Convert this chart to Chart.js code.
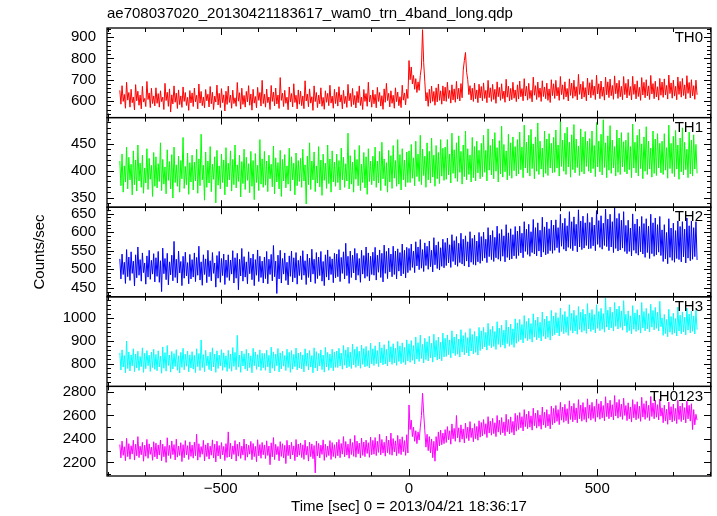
<!DOCTYPE html>
<html><head><meta charset="utf-8">
<script src="https://cdn.jsdelivr.net/npm/chart.js@4/dist/chart.umd.min.js"></script>
<style>html,body{margin:0;padding:0;background:#fff}canvas{display:block}</style>
</head><body>
<canvas id="c" width="717" height="516"></canvas>
<script>
const TITLE = 'ae708037020_20130421183617_wam0_trn_4band_long.qdp';
const X_TITLE = 'Time [sec] 0 = 2013/04/21 18:36:17';
const Y_TITLE = 'Counts/sec';
const T_START = -768, T_STEP = 3;
const panelNames = ['TH0','TH1','TH2','TH3','TH0123'];
const panelColors = ['#ff0000','#00ff00','#0000ff','#00ffff','#ff00ff'];

const th0 = [
650,585,672,598,631,566,688,604,640,571,655,592,619,558,677,601,646,580,628,563,669,595,612,574,692,607,638,569,660,588,624,577,
662,589,635,571,648,597,618,560,683,602,641,575,657,548,629,586,671,594,637,565,652,583,624,570,666,598,640,579,617,556,649,591,
638,574,661,596,627,563,680,590,645,578,619,568,654,601,632,572,668,587,641,560,623,595,675,581,636,569,658,592,629,553,646,584,
670,593,628,566,651,588,615,575,687,599,639,562,660,584,626,571,645,596,672,580,633,557,655,590,621,568,664,603,640,576,697,588,
632,571,656,592,619,560,673,598,642,577,661,586,628,565,710,603,637,574,650,589,618,559,666,596,635,572,681,593,627,563,652,585,
646,578,624,564,695,600,633,573,657,590,620,556,671,597,640,569,628,587,662,575,617,561,648,594,636,578,674,590,623,566,655,588,
641,576,667,595,629,563,650,588,622,570,678,601,636,574,659,583,626,567,645,592,671,579,618,560,654,598,635,575,688,596,628,571,
652,587,631,568,664,598,640,576,625,561,657,594,683,602,636,572,648,589,627,566,662,597,642,578,620,569,674,604,638,582,655,612,
790,700,760,680,720,655,705,640,690,650,720,760,935,780,690,600,640,575,655,590,670,598,645,580,662,596,680,603,648,585,671,600,
665,598,688,612,650,590,676,605,657,594,692,609,660,600,682,615,745,790,828,735,700,630,672,605,660,598,684,610,652,592,679,614,
668,601,685,612,650,592,697,616,662,598,678,607,655,589,690,620,664,603,681,611,647,594,702,618,670,600,659,606,688,613,652,597,
676,609,694,620,658,601,705,623,669,604,683,612,650,596,712,627,672,607,689,617,661,598,695,621,666,611,684,603,657,593,700,625,
681,612,697,624,664,603,715,630,676,608,690,619,659,600,704,626,684,613,698,622,667,605,725,631,679,610,692,618,663,601,708,628,
686,615,700,627,670,607,721,633,681,611,694,622,666,604,712,629,690,616,703,625,673,608,718,634,684,612,697,620,669,606,715,630,
683,614,702,626,668,605,716,631,679,610,695,621,664,603,710,628,688,615,700,624,671,607,720,633,682,611,693,619,667,604,706,627,
689,617,704,628,673,609,722,635,685,613,698,623,669,606,713,631,692,618,706,626,676,610,719,636,687,614,700,624,672,608,698,629];

const th1 = [
418,372,431,360,409,379,444,366,425,383,412,355,437,374,420,362,448,381,414,369,429,358,405,377,441,365,423,384,410,352,434,371,
426,368,413,380,452,363,421,375,407,357,439,382,417,366,430,349,444,378,411,371,427,360,419,385,462,367,408,374,433,356,415,379,
429,364,416,381,440,358,422,372,468,383,410,345,435,369,418,377,445,361,412,384,426,340,438,373,409,366,431,378,420,355,443,370,
414,383,437,362,421,374,448,368,411,380,429,351,417,376,440,365,425,382,413,359,436,371,419,346,432,378,410,363,458,375,422,369,
436,373,418,361,429,385,412,370,446,357,424,379,415,366,438,352,421,381,430,368,409,375,442,362,426,383,414,355,433,372,419,380,
423,369,440,381,411,338,427,374,452,365,418,383,435,361,409,377,445,370,420,354,431,382,414,367,448,376,422,360,437,379,416,371,
431,378,419,364,442,383,425,369,413,381,470,366,428,375,416,360,439,384,421,372,447,363,412,378,434,368,426,356,441,380,418,374,
427,381,444,369,418,377,436,363,453,385,422,372,415,360,438,379,428,367,447,386,419,371,458,375,430,364,441,383,420,370,435,378,
437,378,449,386,424,372,455,389,431,380,466,374,440,391,427,369,452,383,436,377,461,388,429,371,447,385,434,376,458,390,442,382,
444,384,458,392,431,377,470,395,439,386,452,380,465,397,436,375,448,389,474,383,441,393,429,379,462,387,445,381,455,396,438,385,
451,389,466,397,438,381,478,401,447,392,459,385,471,399,443,379,456,394,483,388,449,398,437,383,468,391,452,386,463,400,445,390,
458,394,472,402,444,387,485,405,453,396,466,390,477,404,450,385,463,399,489,393,455,403,442,388,474,395,459,391,469,405,451,396,
462,397,476,405,448,390,492,408,457,399,470,393,481,407,453,388,467,402,486,396,459,406,446,391,478,398,463,394,473,408,455,399,
460,396,474,404,447,389,490,407,455,398,468,392,495,406,452,387,465,401,484,395,457,405,445,390,476,397,461,393,471,407,454,398,
457,394,471,402,445,387,487,405,453,396,466,390,477,404,450,385,463,399,482,393,455,403,442,388,474,395,459,391,469,405,451,396,
455,393,469,401,443,386,485,404,451,395,464,389,475,403,448,384,461,398,480,392,453,402,440,387,472,394,457,390,467,403,449,395];

const th2 = [
528,474,541,486,519,462,553,480,533,470,547,489,522,455,539,477,560,484,526,468,544,491,517,460,536,479,551,473,524,487,542,466,
531,481,548,465,523,440,557,488,529,472,543,458,520,485,538,469,575,478,527,463,549,490,521,456,535,476,546,482,518,461,540,474,
526,479,544,467,532,484,562,471,520,457,539,486,528,464,551,480,523,469,545,489,517,452,537,476,548,465,529,483,541,459,525,478,
539,470,525,487,550,463,531,476,543,445,527,482,556,468,534,479,520,461,547,488,530,472,541,456,526,484,552,467,535,478,522,463,
533,475,548,461,527,486,540,469,564,480,522,435,538,474,551,463,529,487,544,470,519,458,536,481,549,466,531,477,545,460,524,483,
536,472,550,484,523,459,541,478,530,466,554,487,527,462,545,475,533,483,548,468,521,456,539,479,552,471,534,486,528,464,543,477,
541,480,553,467,532,489,547,474,570,483,535,462,549,478,538,490,556,471,543,484,529,465,551,487,537,476,560,481,544,469,535,486,
546,484,559,471,538,492,552,478,543,466,565,489,548,475,557,493,541,480,562,486,549,474,555,495,545,482,568,488,551,477,559,491,
556,497,568,505,549,491,574,509,560,499,580,503,553,494,571,510,562,500,576,507,551,493,585,512,565,502,574,498,558,508,581,504,
572,510,584,517,566,505,593,521,577,512,588,508,570,518,597,514,581,509,590,522,574,506,601,519,583,513,592,511,576,520,599,516,
588,523,600,530,581,518,612,534,592,526,604,521,586,531,616,527,596,522,607,535,590,520,620,532,598,525,609,528,593,536,615,529,
603,537,616,544,597,531,628,548,608,540,621,535,601,545,634,541,612,536,625,549,605,533,640,546,614,539,627,542,609,550,632,543,
619,551,633,558,612,545,648,562,624,554,637,549,617,559,655,556,628,550,641,563,621,547,660,560,630,553,643,557,625,564,650,555,
626,556,640,563,619,550,658,567,631,559,644,554,624,564,662,561,635,550,648,560,628,545,665,556,637,549,650,552,632,557,655,548,
618,542,632,548,611,536,649,551,622,543,635,538,615,547,642,541,623,532,636,545,616,529,648,542,625,535,638,539,620,546,642,537,
606,521,620,528,599,515,636,532,611,524,624,519,604,529,630,526,615,520,628,533,608,517,638,530,617,523,630,527,612,534,628,525];

const th3 = [
848,772,861,785,836,760,900,779,852,768,839,790,866,765,843,781,855,770,832,787,870,762,846,778,858,791,838,766,851,783,864,775,
841,769,857,786,833,758,874,780,849,767,880,792,838,763,854,777,845,788,862,771,835,759,850,784,868,773,842,789,856,764,839,781,
853,776,837,761,866,787,845,770,905,783,840,765,859,791,834,774,851,768,870,786,843,762,857,779,838,790,862,771,848,784,835,766,
859,779,842,767,871,788,850,773,925,785,838,762,856,790,844,776,863,769,847,783,835,760,868,791,852,775,840,786,861,770,846,782,
845,771,860,786,837,759,873,780,852,768,843,791,867,764,848,777,855,789,836,770,864,783,850,762,858,776,841,787,869,773,847,781,
851,777,839,764,866,789,847,772,858,785,836,760,870,781,853,768,845,790,861,774,838,763,872,786,850,771,843,782,864,769,852,784,
856,783,868,790,847,776,880,793,861,781,873,787,852,779,886,795,864,784,875,791,855,780,882,797,867,786,876,789,858,782,890,799,
866,792,879,800,858,787,895,804,870,795,884,799,863,790,901,808,875,797,888,803,868,793,898,810,879,800,892,806,872,796,905,812,
888,806,902,815,880,799,918,820,893,810,926,823,885,803,912,818,897,812,921,826,890,807,930,829,903,816,917,821,895,813,935,830,
912,832,927,840,905,826,945,846,918,836,931,842,909,829,950,851,924,839,937,848,915,834,955,856,929,843,942,850,921,838,960,858,
945,866,960,874,938,860,978,880,951,870,965,876,942,863,985,885,957,873,970,882,948,868,992,889,962,877,975,884,954,872,998,890,
980,898,995,906,973,892,1012,912,986,902,1000,908,977,895,1020,917,992,905,1006,914,983,900,1028,921,997,909,1010,916,989,904,1035,923,
1010,928,1025,936,1003,922,1045,942,1016,932,1030,938,1007,925,1060,947,1022,935,1036,944,1013,930,1052,951,1027,939,1040,946,1019,934,1065,953,
1024,942,1039,950,1017,936,1060,956,1030,946,1044,952,1021,939,1090,961,1036,949,1050,958,1027,944,1070,965,1041,953,1054,960,1033,948,1078,967,
1018,938,1033,946,1011,932,1056,952,1024,942,1038,948,1015,935,1070,957,1030,945,1044,954,1021,940,1062,961,1035,949,1048,956,1027,944,1075,963,
1002,925,1017,933,995,919,1040,939,1008,929,1022,935,999,922,1050,944,1014,932,1028,941,1005,927,1045,948,1019,936,1032,943,1011,931,1035,950];

const th0123 = [
2352,2238,2381,2260,2334,2215,2405,2249,2360,2227,2342,2271,2389,2220,2355,2256,2420,2241,2338,2265,2371,2210,2347,2252,2396,2235,2358,2268,2330,2218,2376,2247,
2364,2230,2349,2262,2391,2214,2356,2248,2337,2200,2410,2258,2345,2233,2383,2266,2352,2221,2398,2245,2340,2259,2368,2207,2351,2240,2386,2263,2343,2225,2375,2251,
2348,2236,2372,2257,2440,2219,2359,2244,2335,2269,2388,2212,2350,2250,2366,2228,2339,2261,2392,2237,2356,2204,2381,2254,2344,2231,2369,2264,2336,2216,2360,2242,
2460,2246,2363,2229,2341,2267,2386,2211,2355,2253,2374,2234,2338,2262,2399,2218,2357,2245,2346,2270,2379,2223,2361,2249,2337,2206,2393,2256,2352,2235,2370,2265,
2349,2233,2384,2259,2340,2180,2367,2247,2412,2224,2354,2266,2336,2213,2377,2251,2359,2238,2345,2190,2388,2257,2348,2229,2371,2263,2341,2215,2395,2246,2357,2261,
2366,2242,2350,2226,2390,2262,2337,2211,2373,2249,2358,2232,2344,2110,2381,2255,2362,2238,2347,2268,2392,2217,2355,2244,2340,2258,2386,2225,2369,2250,2351,2236,
2372,2256,2395,2240,2361,2270,2420,2248,2378,2262,2356,2235,2401,2267,2369,2252,2430,2244,2382,2273,2365,2238,2408,2260,2374,2249,2390,2276,2368,2243,2415,2265,
2388,2270,2412,2258,2380,2285,2440,2264,2395,2279,2372,2253,2425,2283,2391,2268,2450,2261,2403,2289,2384,2257,2430,2276,2398,2266,2418,2291,2386,2260,2436,2280,
2690,2480,2560,2420,2500,2380,2470,2360,2460,2390,2500,2600,2790,2620,2470,2330,2440,2300,2420,2280,2400,2240,2380,2210,2420,2300,2460,2340,2475,2350,2450,2360,
2480,2370,2505,2392,2470,2355,2528,2401,2490,2380,2600,2410,2495,2372,2520,2398,2486,2365,2535,2405,2500,2385,2548,2412,2492,2376,2530,2402,2507,2389,2555,2415,
2540,2425,2565,2440,2530,2412,2590,2450,2552,2432,2575,2445,2538,2420,2600,2458,2560,2437,2582,2452,2545,2428,2610,2462,2566,2442,2588,2455,2550,2433,2618,2466,
2600,2480,2625,2495,2590,2468,2650,2505,2612,2488,2636,2500,2597,2475,2662,2512,2620,2492,2644,2508,2605,2483,2672,2518,2628,2497,2650,2510,2610,2486,2680,2522,
2660,2535,2685,2550,2650,2522,2712,2560,2672,2542,2695,2555,2658,2530,2725,2566,2680,2546,2703,2562,2665,2538,2735,2572,2688,2551,2710,2565,2670,2543,2742,2576,
2690,2560,2712,2575,2678,2548,2740,2585,2700,2568,2722,2580,2685,2555,2760,2590,2706,2572,2730,2588,2692,2562,2770,2596,2712,2577,2736,2590,2697,2567,2748,2600,
2685,2556,2708,2571,2673,2544,2735,2580,2695,2563,2717,2575,2680,2550,2755,2586,2701,2567,2725,2583,2687,2557,2762,2591,2707,2572,2731,2585,2692,2562,2740,2594,
2665,2538,2688,2552,2653,2525,2715,2561,2675,2544,2697,2556,2660,2531,2730,2566,2681,2548,2705,2563,2667,2537,2722,2571,2687,2552,2700,2480,2650,2520,2610,2560];

const series = [th0, th1, th2, th3, th0123];
const times = th0.map((_, i) => T_START + i * T_STEP);

const xRange = [-802, 802];
const xTicks = [-500, 0, 500];
const xMinorStep = 100;
const yRanges = [[522, 943], [332, 499], [426, 667], [700, 1095], [2084, 2848]];
const yTicks = [[600, 700, 800, 900], [350, 400, 450], [450, 500, 550, 600, 650], [800, 900, 1000], [2200, 2400, 2600, 2800]];
const yMinorSteps = [20, 10, 10, 20, 100];

const FONT = '"Liberation Sans", Arial, Helvetica, sans-serif';
Chart.defaults.font.family = FONT;
Chart.defaults.font.size = 15;
Chart.defaults.color = '#000';

const framePlugin = {
  id: 'frames',
  afterDatasetsDraw(chart) {
    const ctx = chart.ctx, xs = chart.scales.x, area = chart.chartArea;
    const L = area.left, R = area.right;
    const seg = (x1, y1, x2, y2) => { ctx.beginPath(); ctx.moveTo(x1, y1); ctx.lineTo(x2, y2); ctx.stroke(); };
    ctx.save();
    panelNames.forEach((name, p) => {
      const ys = chart.scales['y' + p];
      const top = ys.top, bot = ys.bottom;
      ctx.strokeStyle = '#000';
      ctx.lineWidth = 1;
      const ms = yMinorSteps[p];
      for (let v = Math.ceil(yRanges[p][0] / ms) * ms; v <= yRanges[p][1]; v += ms) {
        const y = Math.round(ys.getPixelForValue(v)) + 0.5;
        const len = yTicks[p].includes(v) ? 7 : 4;
        seg(L, y, L + len, y); seg(R, y, R - len, y);
      }
      for (let v = Math.ceil(xRange[0] / xMinorStep) * xMinorStep; v <= xRange[1]; v += xMinorStep) {
        const x = Math.round(xs.getPixelForValue(v)) + 0.5;
        const len = xTicks.includes(v) ? 7 : 4;
        seg(x, top, x, top + len); seg(x, bot, x, bot - len);
      }
      ctx.lineWidth = 1.3;
      ctx.strokeRect(L, top, R - L, bot - top);
      ctx.fillStyle = '#000';
      ctx.font = '15px ' + FONT;
      ctx.textAlign = 'right';
      ctx.textBaseline = 'middle';
      ctx.fillText(name, R - 8, top + 10);
    });
    ctx.restore();
  }
};

const scales = {
  x: {
    type: 'linear', position: 'bottom', min: xRange[0], max: xRange[1],
    grid: { display: false }, border: { display: false },
    ticks: { padding: -4, autoSkip: false, maxRotation: 0,
      callback: v => (v < 0 ? '\u2212' + Math.abs(v) : String(v)) },
    afterBuildTicks: s => { s.ticks = xTicks.map(v => ({ value: v })); },
    afterFit: s => { s.height = 40; },
    title: { display: true, text: X_TITLE, padding: { top: 0, bottom: 0 } }
  }
};
// left-stacked scales are laid out last-defined-first, so define bottom panel first
for (let p = panelNames.length - 1; p >= 0; p--) {
  scales['y' + p] = {
    type: 'linear', position: 'left', stack: 'panels', stackWeight: 1,
    min: yRanges[p][0], max: yRanges[p][1],
    grid: { display: false, drawTicks: false }, border: { display: false },
    ticks: { padding: 11, autoSkip: false, callback: v => String(v) },
    afterBuildTicks: s => { s.ticks = yTicks[p].map(v => ({ value: v })); },
    afterFit: s => { s.width = 76; },
    title: p === 2 ? { display: true, text: Y_TITLE, padding: { top: 0, bottom: 0 } } : { display: false }
  };
}

new Chart(document.getElementById('c'), {
  type: 'line',
  data: {
    datasets: panelNames.map((n, p) => ({
      label: n,
      data: series[p].map((v, i) => ({ x: times[i], y: v })),
      xAxisID: 'x', yAxisID: 'y' + p,
      borderColor: panelColors[p], borderWidth: 1,
      pointRadius: 0, fill: false, tension: 0
    }))
  },
  options: {
    responsive: false, animation: false, devicePixelRatio: 1, events: [],
    layout: { padding: { left: 31, right: 6, top: 4, bottom: 0 } },
    plugins: {
      legend: { display: false }, tooltip: { enabled: false },
      title: { display: true, text: TITLE, align: 'start', fullSize: false,
        padding: { top: 1, bottom: 5 }, font: { size: 15, weight: 'normal' }, color: '#000' }
    },
    scales
  },
  plugins: [framePlugin]
});
</script>
</body></html>
